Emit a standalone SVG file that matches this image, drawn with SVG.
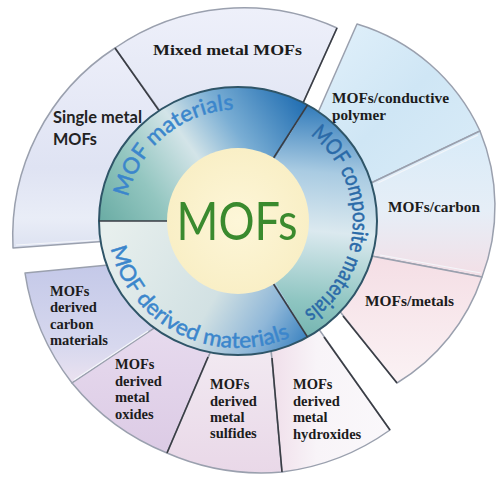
<svg xmlns="http://www.w3.org/2000/svg" width="500" height="479" viewBox="0 0 500 479">
<style>
.seg{stroke:#9aa0ae;stroke-width:1.5;stroke-linejoin:round}
.dark{stroke:#3a3d44;stroke-width:1.6;fill:none}
.lite{stroke:#f4f6fa;stroke-width:1.2;fill:none}
.lbl{font-family:"Liberation Serif","Times New Roman",serif;font-weight:bold;font-size:14.5px;fill:#1c1c1c}
.lbls{font-family:Lato,"Open Sans",sans-serif;font-weight:bold;font-size:17px;fill:#222}
.ring{font-family:Lato,"Open Sans",sans-serif;font-size:22px;fill:#3b86cc;stroke:#3b86cc;stroke-width:0.5}
</style>
<defs>
<linearGradient id="gS1" x1="0" y1="0" x2="0" y2="1"><stop offset="0" stop-color="#eceef9"/><stop offset="0.6" stop-color="#dfe3f3"/><stop offset="0.85" stop-color="#e9edf7"/><stop offset="1" stop-color="#dde2f1"/></linearGradient>
<linearGradient id="gS2" x1="0" y1="0" x2="0" y2="1"><stop offset="0" stop-color="#eef0fa"/><stop offset="1" stop-color="#dce1f1"/></linearGradient>
<linearGradient id="gS3" x1="0" y1="0" x2="1" y2="1"><stop offset="0" stop-color="#e4f2fb"/><stop offset="0.5" stop-color="#cfe6f5"/><stop offset="1" stop-color="#dcedf8"/></linearGradient>
<linearGradient id="gS4" x1="0" y1="0" x2="0" y2="1"><stop offset="0" stop-color="#d8ebf8"/><stop offset="0.55" stop-color="#e6eef7"/><stop offset="1" stop-color="#f3dfe6"/></linearGradient>
<linearGradient id="gS5" x1="0" y1="0" x2="0" y2="1"><stop offset="0" stop-color="#f4dde4"/><stop offset="1" stop-color="#fbf2f4"/></linearGradient>
<linearGradient id="gS6" x1="0" y1="0" x2="0" y2="1"><stop offset="0" stop-color="#c3c8e8"/><stop offset="0.7" stop-color="#d7d8ee"/><stop offset="1" stop-color="#ebe2f0"/></linearGradient>
<linearGradient id="gS7" x1="0" y1="0" x2="0" y2="1"><stop offset="0" stop-color="#e8dcef"/><stop offset="1" stop-color="#dccbe5"/></linearGradient>
<linearGradient id="gS8" x1="0" y1="0" x2="0" y2="1"><stop offset="0" stop-color="#f4eef4"/><stop offset="1" stop-color="#e9d8e8"/></linearGradient>
<linearGradient id="gS9" x1="0" y1="0" x2="1" y2="0"><stop offset="0" stop-color="#efdde9"/><stop offset="0.4" stop-color="#f8f4f8"/><stop offset="1" stop-color="#faf8fb"/></linearGradient>
<linearGradient id="gR1" gradientUnits="userSpaceOnUse" x1="300" y1="100" x2="110" y2="235"><stop offset="0" stop-color="#2470b3"/><stop offset="0.3" stop-color="#7aaed4"/><stop offset="0.5" stop-color="#d3e4e8"/><stop offset="0.75" stop-color="#93c6c0"/><stop offset="1" stop-color="#6aaca4"/></linearGradient>
<linearGradient id="gR2" gradientUnits="userSpaceOnUse" x1="305" y1="100" x2="285" y2="335"><stop offset="0" stop-color="#2a76b8"/><stop offset="0.3" stop-color="#a9cbe2"/><stop offset="0.55" stop-color="#dbe9ef"/><stop offset="0.85" stop-color="#8ec5c1"/><stop offset="1" stop-color="#76b5b1"/></linearGradient>
<linearGradient id="gR3" gradientUnits="userSpaceOnUse" x1="110" y1="230" x2="305" y2="345"><stop offset="0" stop-color="#e7efed"/><stop offset="0.55" stop-color="#d2e1e3"/><stop offset="0.8" stop-color="#8fb7d8"/><stop offset="1" stop-color="#3a82c0"/></linearGradient>
<radialGradient id="gC" cx="0.5" cy="0.5" r="0.5"><stop offset="0" stop-color="#fdf6d8"/><stop offset="1" stop-color="#f9efc6"/></radialGradient>
<path id="tp1" d="M 127.7,240.4 A 113 110 0 0 1 276.3,115.8"/>
<path id="tp2" d="M 295.5,124.9 A 115 111 0 0 1 288.4,320.8"/>
<path id="tp3" d="M 109.3,238.7 A 130 127 0 0 0 299,333.1"/>
</defs>
<rect width="500" height="479" fill="#ffffff"/>

<g id="single-metal-mofs">
<path class="seg" fill="url(#gS1)" d="M 150,238 L 13,248 A 225 225 0 0 1 115,48 L 190,153 Z"/>
<text class="lbls" x="53" y="123" textLength="89" lengthAdjust="spacingAndGlyphs">Single metal</text>
<text class="lbls" x="53" y="145" textLength="44" lengthAdjust="spacingAndGlyphs">MOFs</text>
</g>
<g id="mixed-metal-mofs">
<path class="seg" fill="url(#gS2)" d="M 190,153 L 115,48 A 226 226 0 0 1 337,28 L 276,163 Z"/>
<text class="lbl" x="153" y="55" font-size="16" textLength="149" lengthAdjust="spacingAndGlyphs">Mixed metal MOFs</text>
</g>
<g id="mofs-conductive-polymer">
<path class="seg" fill="url(#gS3)" d="M 298,158 L 357,24 A 198 198 0 0 1 480,131 L 325,205 Z"/>
<text class="lbl" x="332" y="103" textLength="117" lengthAdjust="spacingAndGlyphs">MOFs/conductive</text>
<text class="lbl" x="332" y="120" textLength="54" lengthAdjust="spacingAndGlyphs">polymer</text>
</g>
<g id="mofs-carbon">
<path class="seg" fill="url(#gS4)" d="M 325,205 L 480,131 A 198 198 0 0 1 482,277 L 329,248 Z"/>
<text class="lbl" x="388" y="212" textLength="92" lengthAdjust="spacingAndGlyphs">MOFs/carbon</text>
</g>
<g id="mofs-metals">
<path class="seg" fill="url(#gS5)" d="M 329,248 L 482,277 A 198 198 0 0 1 397,383 L 314,279 Z"/>
<text class="lbl" x="365" y="306" textLength="89" lengthAdjust="spacingAndGlyphs">MOFs/metals</text>
</g>
<g id="mofs-derived-carbon-materials">
<path class="seg" fill="url(#gS6)" d="M 150,261 L 25,273 A 236 236 0 0 0 72,383 L 177,313 Z"/>
<text class="lbl" x="50" y="296">MOFs</text>
<text class="lbl" x="50" y="312">derived</text>
<text class="lbl" x="50" y="329">carbon</text>
<text class="lbl" x="50" y="345">materials</text>
</g>
<g id="mofs-derived-metal-oxides">
<path class="seg" fill="url(#gS7)" d="M 177,313 L 72,383 A 236 236 0 0 0 167,453 L 223,323 Z"/>
<text class="lbl" x="115" y="369">MOFs</text>
<text class="lbl" x="115" y="386">derived</text>
<text class="lbl" x="115" y="402">metal</text>
<text class="lbl" x="115" y="419">oxides</text>
</g>
<g id="mofs-derived-metal-sulfides">
<path class="seg" fill="url(#gS8)" d="M 223,323 L 167,453 A 236 236 0 0 0 282,472 L 268,315 Z"/>
<text class="lbl" x="210" y="389">MOFs</text>
<text class="lbl" x="210" y="406">derived</text>
<text class="lbl" x="210" y="422">metal</text>
<text class="lbl" x="210" y="438">sulfides</text>
</g>
<g id="mofs-derived-metal-hydroxides">
<path class="seg" fill="url(#gS9)" d="M 268,315 L 282,472 A 236 236 0 0 0 390,430 L 299,301 Z"/>
<text class="lbl" x="293" y="389">MOFs</text>
<text class="lbl" x="293" y="406">derived</text>
<text class="lbl" x="293" y="422">metal</text>
<text class="lbl" x="293" y="439">hydroxides</text>
</g>

<g id="dividers">
<line class="dark" x1="115" y1="48" x2="160" y2="112"/>
<line class="dark" x1="337" y1="28" x2="303" y2="103"/>
<line class="lite" x1="478" y1="135" x2="378" y2="183"/>
<line class="lite" x1="481" y1="273" x2="380" y2="255"/>
<line class="dark" x1="397" y1="383" x2="343" y2="316"/>
<line class="dark" x1="390" y1="430" x2="324" y2="337"/>
<line class="dark" x1="282" y1="472" x2="272" y2="358"/>
<line class="dark" x1="167" y1="453" x2="208" y2="357"/>
<line class="lite" x1="74" y1="380" x2="148" y2="331"/>
<line class="lite" x1="16" y1="245" x2="98" y2="240"/>
</g>

<g id="mof-materials">
<path fill="url(#gR1)" d="M 238,221 L 99,221 A 139 134 0 0 1 307.5,105 Z"/>
<text class="ring"><textPath href="#tp1" startOffset="50%" text-anchor="middle" textLength="148" lengthAdjust="spacingAndGlyphs">MOF materials</textPath></text>
</g>
<g id="mof-composite-materials">
<path fill="url(#gR2)" d="M 238,221 L 307.5,105 A 139 134 0 0 1 307.5,337 Z"/>
<text class="ring" style="fill:#2a6aa8;stroke:#2a6aa8"><textPath href="#tp2" startOffset="50%" text-anchor="middle" textLength="207" lengthAdjust="spacingAndGlyphs">MOF composite materials</textPath></text>
</g>
<g id="mof-derived-materials">
<path fill="url(#gR3)" d="M 238,221 L 307.5,337 A 139 134 0 0 1 99,221 Z"/>
<text class="ring"><textPath href="#tp3" startOffset="50%" text-anchor="middle" textLength="228" lengthAdjust="spacingAndGlyphs">MOF derived materials</textPath></text>
</g>
<g id="ring-edges">
<ellipse cx="238" cy="221" rx="139" ry="134" fill="none" stroke="#2f5568" stroke-width="2"/>
<line class="dark" x1="99" y1="221" x2="168" y2="221" stroke="#24404a"/>
<line class="dark" x1="307.5" y1="105" x2="273.5" y2="158" stroke="#24404a"/>
<line class="dark" x1="307.5" y1="337" x2="273.5" y2="284" stroke="#24404a"/>
</g>

<g id="mofs-center">
<ellipse cx="238" cy="221" rx="71" ry="73" fill="url(#gC)"/>
<text x="237" y="240" text-anchor="middle" font-family="Lato,'Open Sans',sans-serif" font-size="52" fill="#3a8a2e" textLength="121" lengthAdjust="spacingAndGlyphs">MOFs</text>
</g>
</svg>
